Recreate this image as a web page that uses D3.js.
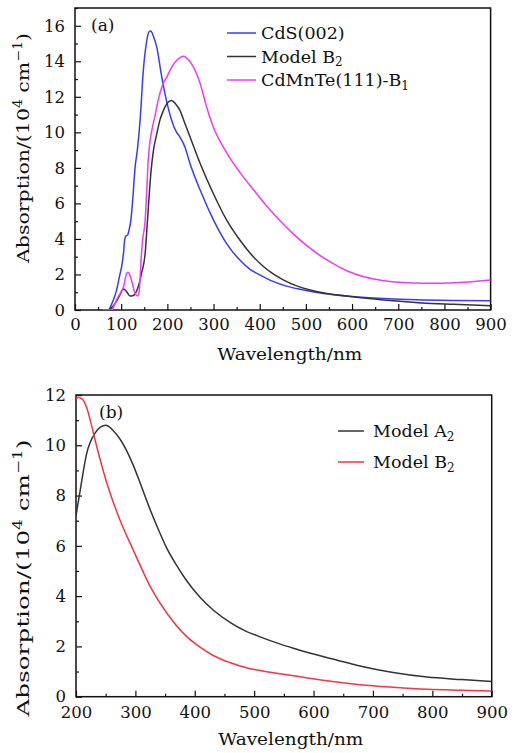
<!DOCTYPE html>
<html><head><meta charset="utf-8">
<script src="https://cdn.jsdelivr.net/npm/d3@7"></script>
<style>
body{margin:0;background:#fff;}
text{font-family:"DejaVu Serif",serif;fill:#111;}
</style></head>
<body><svg id="c" width="517" height="753"></svg>
<script>
// ---- Panel (a) data: [wavelength nm, absorption 10^4 cm^-1]
const cdsA = [[60,0],[72,0],[78,0.25],[83,0.56],[90,1.12],[94,1.6],[97,1.97],[101,2.44],[105,3.19],[108,4.03],[111,4.18],[114,4.22],[117,4.5],[121,5.06],[125,6.2],[130,8.0],[135,9.0],[141,10.7],[148,13.5],[155,15.1],[160,15.65],[164,15.7],[170,15.4],[177,14.8],[188,13.1],[198,11.8],[209,10.7],[220,10.0],[227,9.75],[238,9.18],[249,8.25],[271,6.75],[300,5.06],[328,3.75],[357,2.81],[379,2.29],[400,1.98],[430,1.6],[460,1.33],[490,1.15],[520,1.0],[560,0.86],[600,0.76],[670,0.65],[740,0.58],[820,0.54],[900,0.52]];
const modelB2A = [[60,0],[72,0],[80,0.15],[87,0.37],[97,0.84],[105,1.18],[112,1.03],[119,0.79],[125,0.8],[130,0.9],[137,1.31],[144,2.06],[152,3.19],[157,5.06],[161,6.6],[165,7.9],[170,9.0],[177,9.9],[184,10.7],[191,11.2],[200,11.65],[209,11.8],[218,11.6],[227,11.25],[238,10.5],[249,9.75],[271,8.25],[299.5,6.56],[328.5,5.06],[357,3.94],[386,3.0],[408,2.45],[430,2.02],[451,1.7],[480,1.36],[509,1.13],[540,0.96],[570,0.84],[600,0.74],[668,0.56],[750,0.4],[820,0.32],[900,0.24]];
const cdmnteA = [[60,0],[79,0],[85,0.25],[90,0.56],[97,0.9],[105,1.31],[112,2.06],[115.5,2.12],[119,1.95],[123,1.6],[130,0.94],[136,0.79],[139,1.03],[141,1.8],[143,2.81],[146.5,3.94],[152,5.06],[155,6.5],[158,8.2],[162,9.4],[167,10.2],[173,10.9],[180,11.8],[191,12.75],[198.5,13.1],[210,13.7],[222,14.1],[234.6,14.29],[245,14.1],[256,13.7],[271,12.75],[285,11.43],[299.5,10.3],[328.5,8.85],[357,7.75],[386,6.78],[415,5.86],[444,5.02],[473,4.27],[502,3.62],[530,3.08],[560,2.6],[595,2.14],[630,1.84],[668,1.65],[720,1.53],[783,1.5],[840,1.56],[900,1.69]];
const xTicksA = [0,100,200,300,400,500,600,700,800,900];
const yTicksA = [0,2,4,6,8,10,12,14,16];
// ---- Panel (b) data
const modelA2B = [[200,7.2],[207,8.2],[218,9.68],[232,10.48],[241,10.72],[250.5,10.8],[262,10.6],[274,10.25],[285,9.8],[296.5,9.2],[308,8.5],[319,7.8],[336,6.8],[353,5.9],[370,5.2],[386,4.62],[408,3.98],[431,3.45],[460,2.95],[485,2.62],[510,2.38],[543,2.1],[566,1.93],[600,1.7],[640,1.45],[678,1.22],[734,0.96],[791,0.78],[850,0.68],[900,0.6]];
const modelB2B = [[200,11.85],[204,11.9],[210,11.85],[218,11.5],[225,10.9],[235,9.94],[252,8.49],[274,7.03],[296.5,5.83],[325,4.38],[353,3.32],[386,2.4],[410,1.95],[431,1.64],[460,1.35],[487,1.15],[510,1.04],[543,0.91],[566,0.83],[622,0.63],[678,0.48],[734,0.38],[791,0.3],[850,0.26],[900,0.23]];
const xTicksB = [200,300,400,500,600,700,800,900];
const yTicksB = [0,2,4,6,8,10,12];

const svg = d3.select("#c");
const FS = 16.5;

function panel(cfg){
  const g = svg.append("g");
  const x = d3.scaleLinear().domain(cfg.xd).range([cfg.l, cfg.r]);
  const y = d3.scaleLinear().domain(cfg.yd).range([cfg.b, cfg.t]);
  const id = "clip"+cfg.name;
  svg.append("clipPath").attr("id", id).append("rect")
    .attr("x", cfg.l).attr("y", cfg.t).attr("width", cfg.r-cfg.l).attr("height", cfg.b-cfg.t);
  const xMinor = d3.range(cfg.xd[0], cfg.xd[1]+1, 50).filter(v => v % 100 !== 0);
  const yMinor = d3.range(cfg.yd[0]+1, cfg.yd[1]+0.01, 2);
  const xa = d3.axisBottom(x).tickValues(cfg.xt).tickSize(-6).tickPadding(cfg.xpad).tickFormat(d3.format("d"));
  const xam = d3.axisBottom(x).tickValues(xMinor).tickSize(-3).tickFormat("");
  const ya = d3.axisLeft(y).tickValues(cfg.yt).tickSize(-6).tickPadding(10).tickFormat(d3.format("d"));
  const yam = d3.axisLeft(y).tickValues(yMinor).tickSize(-3).tickFormat("");
  [[xa,"x"],[xam,"x"],[ya,"y"],[yam,"y"]].forEach(([ax,k])=>{
    const a = g.append("g").attr("transform", k==="x" ? `translate(0,${cfg.b})` : `translate(${cfg.l},0)`).call(ax);
    a.select(".domain").remove();
    a.selectAll("line").attr("stroke","#111").attr("stroke-width",1.2);
    a.selectAll("text").attr("font-size",FS).style("font-family","DejaVu Serif").attr("fill","#111");
  });
  g.append("rect").attr("x",cfg.l).attr("y",cfg.t).attr("width",cfg.r-cfg.l).attr("height",cfg.b-cfg.t)
    .attr("fill","none").attr("stroke","#111").attr("stroke-width",1.5);
  const line = d3.line().x(d=>x(d[0])).y(d=>y(d[1])).curve(d3.curveMonotoneX);
  cfg.series.forEach(s=>{
    g.append("path").datum(s.data).attr("d",line).attr("fill","none")
      .attr("stroke",s.color).attr("stroke-width",1.5).attr("clip-path",`url(#${id})`);
  });
  cfg.series.forEach((s,i)=>{
    const yy = cfg.leg.y + i*cfg.leg.dy;
    g.append("line").attr("x1",cfg.leg.x1).attr("x2",cfg.leg.x2).attr("y1",yy).attr("y2",yy)
      .attr("stroke",s.color).attr("stroke-width",1.5);
    const t = g.append("text").attr("x",cfg.leg.tx).attr("y",yy+6).attr("font-size",17.5);
    t.append("tspan").text(s.label);
    if (s.sub){ t.append("tspan").attr("font-size",12).attr("dy",3.5).text(s.sub); }
  });
  g.append("text").attr("x",cfg.tag.x).attr("y",cfg.tag.y).attr("font-size",17).text(cfg.tag.text);
  g.append("text").attr("x",(cfg.l+cfg.r)/2+7).attr("y",cfg.b+cfg.xtitle)
    .attr("text-anchor","middle").attr("font-size",17.5)
    .attr("textLength",145).attr("lengthAdjust","spacingAndGlyphs").text("Wavelength/nm");
  const yt = g.append("text").attr("transform",`translate(${cfg.ylx},${cfg.ylc}) rotate(-90)`)
    .attr("text-anchor","middle").attr("font-size",17.5)
    .attr("textLength",cfg.ylen).attr("lengthAdjust","spacingAndGlyphs");
  yt.append("tspan").text("Absorption/(10");
  yt.append("tspan").attr("font-size",12).attr("dy",-7).text("4");
  yt.append("tspan").attr("dy",7).text(" cm");
  yt.append("tspan").attr("font-size",12).attr("dy",-7).text("\u22121");
  yt.append("tspan").attr("dy",7).text(")");
}

panel({name:"a", xd:[0,900], yd:[0,17], l:75, r:490.6, t:8, b:310, xt:xTicksA, yt:yTicksA, xpad:8, xtitle:50,
  series:[
    {data:cdsA, color:"#3b3bf2", label:"CdS(002)"},
    {data:modelB2A, color:"#333333", label:"Model B", sub:"2"},
    {data:cdmnteA, color:"#f03cf0", label:"CdMnTe(111)-B", sub:"1"}],
  leg:{x1:227, x2:256, tx:261, y:33, dy:23.5},
  tag:{x:91, y:31, text:"(a)"},
  ylx:29, ylc:148, ylen:230});

panel({name:"b", xd:[200,900], yd:[0,12], l:76, r:491.7, t:395, b:696.7, xt:xTicksB, yt:yTicksB, xpad:10, xtitle:48,
  series:[
    {data:modelA2B, color:"#333333", label:"Model A", sub:"2"},
    {data:modelB2B, color:"#f0364a", label:"Model B", sub:"2"}],
  leg:{x1:338, x2:364, tx:373, y:431, dy:31},
  tag:{x:99, y:418, text:"(b)"},
  ylx:29, ylc:578, ylen:277});
</script></body></html>
